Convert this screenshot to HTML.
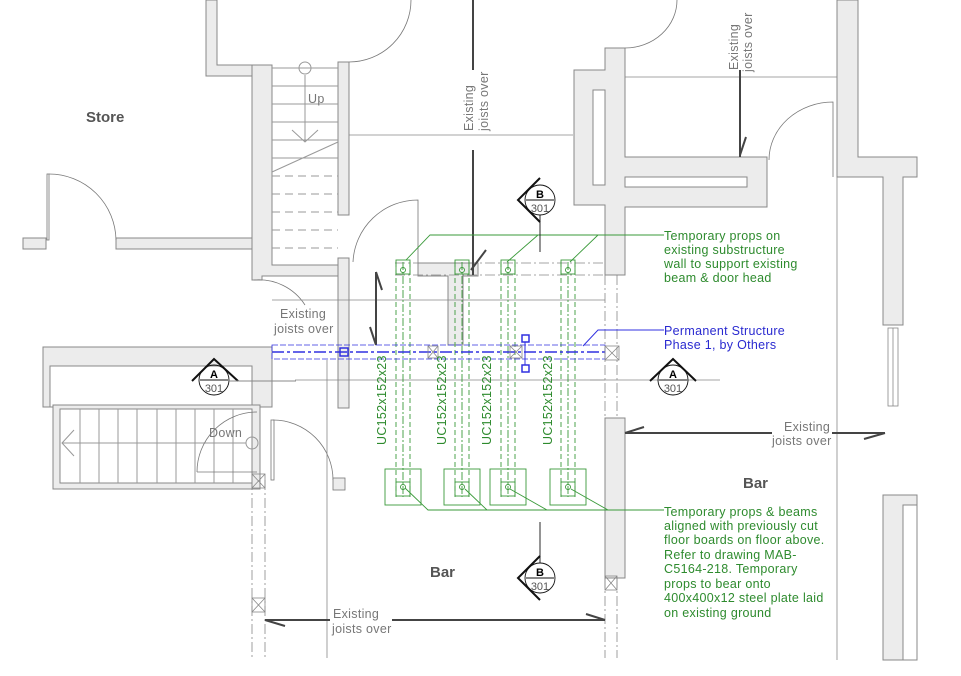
<!DOCTYPE html>
<html><head><meta charset="utf-8"><style>
html,body{margin:0;padding:0;background:#fff;}
svg{display:block;font-family:"Liberation Sans",sans-serif;}
</style></head><body>
<svg width="961" height="676" viewBox="0 0 961 676" xmlns="http://www.w3.org/2000/svg">
<g fill="#ececec" stroke="#888" stroke-width="1">
<path d="M206 0 H217 V65 H272 V76 H206 Z"/>
<path d="M252 65 H272 V265 H338 V276 H262 V280 H252 Z"/>
<rect x="23" y="238" width="23" height="11"/>
<path d="M116 238 H252 V249 H116 Z"/>
<rect x="338" y="62" width="11" height="153"/>
<rect x="338" y="258" width="11" height="150"/>
<path d="M605 48 H625 V157 H767 V207 H625 V275 H605 V205 H574 V70 H605 Z"/>
<rect x="593" y="90" width="12" height="95" fill="#fff"/>
<rect x="625" y="177" width="122" height="10" fill="#fff"/>
<path d="M418 263 H478 V276 H463 V345 H448 V276 H418 Z"/>
<path d="M837 0 H858 V157 H917 V177 H903 V325 H883 V177 H837 Z"/>
<path d="M883 495 H917 V660 H883 Z"/>
<rect x="903" y="505" width="14" height="155" fill="#fff"/>
<rect x="605" y="418" width="20" height="160"/>
<!-- down stairs -->
<rect x="43" y="347" width="229" height="60"/>
<rect x="50" y="366" width="202" height="41" fill="#fff"/>
<rect x="53" y="405" width="207" height="84"/>
<rect x="60" y="409" width="192" height="74" fill="#fff"/>
</g>
<g fill="none" stroke="#888" stroke-width="0.8">
<rect x="888" y="328" width="10" height="78"/>
<line x1="893" y1="328" x2="893" y2="406"/>
</g>
<g stroke="#999" stroke-width="1">
<line x1="272" y1="68" x2="338" y2="68"/><line x1="272" y1="86" x2="338" y2="86"/>
<line x1="272" y1="104" x2="338" y2="104"/><line x1="272" y1="122" x2="338" y2="122"/>
<line x1="272" y1="140" x2="338" y2="140"/><line x1="272" y1="158" x2="338" y2="158"/>
<g stroke-dasharray="8 5"><line x1="272" y1="176" x2="338" y2="176"/><line x1="272" y1="194" x2="338" y2="194"/><line x1="272" y1="212" x2="338" y2="212"/><line x1="272" y1="230" x2="338" y2="230"/><line x1="272" y1="248" x2="338" y2="248"/></g>
<line x1="305" y1="75" x2="305" y2="142"/><circle cx="305" cy="68" r="6" fill="none"/>
<path d="M292 130 L305 142 L318 130" fill="none"/>
<line x1="272" y1="172" x2="338" y2="142"/>
<g><line x1="80" y1="409" x2="80" y2="483"/><line x1="99" y1="409" x2="99" y2="483"/><line x1="118" y1="409" x2="118" y2="483"/><line x1="137" y1="409" x2="137" y2="483"/><line x1="157" y1="409" x2="157" y2="483"/><line x1="176" y1="409" x2="176" y2="483"/><line x1="195" y1="409" x2="195" y2="483"/><line x1="214" y1="409" x2="214" y2="483"/><line x1="233" y1="409" x2="233" y2="483"/></g>
<line x1="62" y1="443" x2="246" y2="443"/><path d="M74 430 L62 443 L74 456" fill="none"/>
<circle cx="252" cy="443" r="6" fill="none"/>
</g>
<g fill="none" stroke="#777" stroke-width="0.8">
<path d="M49 174 A67 67 0 0 1 116 240"/><rect x="47" y="174" width="2" height="66"/>
<path d="M349 62 A62 62 0 0 0 411 0"/>
<path d="M353 262 A65 65 0 0 1 418 200 V263"/>
<path d="M254 280 A55 55 0 0 1 305 305"/>
<path d="M197 472 A60 60 0 0 1 257 412"/><line x1="197" y1="472" x2="257" y2="472"/>
<path d="M273 420 A60 60 0 0 1 333 480"/><rect x="271" y="420" width="3" height="60"/>
<rect x="333" y="478" width="12" height="12" fill="#ececec"/>
<path d="M625 48 A52 48 0 0 0 677 0"/>
<path d="M769 160 A64 58 0 0 1 833 102 V177"/>
</g>
<g stroke="#888" stroke-width="0.8" fill="none">
<line x1="327" y1="360" x2="327" y2="658"/>
<line x1="837" y1="177" x2="837" y2="660"/>
<g stroke-dasharray="10 3 2 3"><line x1="252" y1="480" x2="252" y2="658"/><line x1="265" y1="480" x2="265" y2="658"/><line x1="605" y1="275" x2="605" y2="418"/><line x1="617" y1="275" x2="617" y2="418"/><line x1="605" y1="578" x2="605" y2="658"/><line x1="617" y1="578" x2="617" y2="658"/>
<line x1="395" y1="263" x2="605" y2="263"/><line x1="395" y1="275" x2="605" y2="275"/></g>
<rect x="252" y="474" width="13" height="14"/><path d="M252 474 L265 488 M265 474 L252 488"/>
<rect x="252" y="598" width="13" height="14"/><path d="M252 598 L265 612 M265 598 L252 612"/>
<rect x="605" y="576" width="12" height="14"/><path d="M605 576 L617 590 M617 576 L605 590"/>
<line x1="349" y1="135" x2="573" y2="135"/>
<line x1="625" y1="77" x2="837" y2="77"/>
<line x1="272" y1="300" x2="605" y2="300"/>
<line x1="295" y1="380" x2="605" y2="380"/>
<line x1="590" y1="380" x2="720" y2="380"/>
</g>
<g stroke="#444" stroke-width="2" fill="none">
<line x1="473" y1="0" x2="473" y2="70"/><line x1="473" y1="150" x2="473" y2="275"/><path d="M471 270 L486 250"/>
<line x1="740" y1="70" x2="740" y2="157"/><path d="M740 155 L746 137"/>
<line x1="376" y1="272" x2="376" y2="345"/><path d="M376 272 L382 290 M376 345 L370 327"/>
<line x1="625" y1="433" x2="772" y2="433"/><line x1="832" y1="433" x2="885" y2="433"/><path d="M625 433 L644 427 M885 433 L864 439"/>
<line x1="265" y1="620" x2="330" y2="620"/><line x1="392" y1="620" x2="605" y2="620"/><path d="M265 620 L285 626 M605 620 L586 614"/>
</g>
<g stroke="#3a9a3a" fill="none" stroke-width="0.9">
<g id="p1"><g stroke-dasharray="5 3"><line x1="396" y1="262" x2="396" y2="497"/><line x1="410" y1="262" x2="410" y2="497"/></g><line x1="403" y1="262" x2="403" y2="497" stroke-dasharray="8 2 2 2"/><rect x="396" y="260" width="14" height="14"/><circle cx="403" cy="270" r="2.5"/><rect x="396" y="482" width="14" height="14"/><rect x="385" y="469" width="36" height="36"/><circle cx="403" cy="487" r="2.5"/></g>
<use href="#p1" x="59"/><use href="#p1" x="105"/><use href="#p1" x="165"/>
<path d="M664 235 H430 L406 260 M538 235 L507 262 M598 235 L570 262"/>
<path d="M664 510 H428 L405 488 M487 510 L465 489 M547 510 L510 489 M608 510 L571 489"/>
</g>
<g stroke="#3030e0" fill="none">
<rect x="272" y="345" width="333" height="14" stroke-width="0.8" stroke-dasharray="6 2"/>
<line x1="272" y1="352" x2="605" y2="352" stroke-width="1.5" stroke-dasharray="12 3 3 3"/>
<rect x="340" y="348" width="8" height="8" stroke-width="1.5"/>
<rect x="522" y="335" width="7" height="7" stroke-width="1.5"/><rect x="522" y="365" width="7" height="7" stroke-width="1.5"/><line x1="525" y1="342" x2="525" y2="365"/>
<path d="M664 330 H598 L583 346"/>
</g>
<g stroke="#888" fill="none" stroke-width="0.8">
<rect x="428" y="346" width="10" height="12"/><path d="M428 346 L438 358 M438 346 L428 358"/>
<rect x="510" y="346" width="12" height="12"/><path d="M510 346 L522 358 M522 346 L510 358"/>
<rect x="605" y="346" width="14" height="14"/><path d="M605 346 L619 360 M619 346 L605 360"/>
</g>
<g stroke="#111" fill="none">
<g stroke-width="0.9"><circle cx="540" cy="200" r="15"/><line x1="526" y1="200" x2="554" y2="200"/><line x1="540" y1="215" x2="540" y2="252"/><path d="M540 178 L518 200 L540 222" stroke-width="2"/></g>
<g stroke-width="0.9"><circle cx="540" cy="578" r="15"/><line x1="526" y1="578" x2="554" y2="578"/><line x1="540" y1="522" x2="540" y2="563"/><path d="M540 556 L518 578 L540 600" stroke-width="2"/></g>
<g stroke-width="0.9"><circle cx="214" cy="380" r="15"/><line x1="200" y1="380" x2="228" y2="380"/><path d="M192 381 L214 359 L238 381" stroke-width="2"/><line x1="228" y1="381" x2="296" y2="381" stroke="#888"/></g>
<g stroke-width="0.9"><circle cx="673" cy="380" r="15"/><line x1="659" y1="380" x2="687" y2="380"/><path d="M650 381 L673 359 L696 381" stroke-width="2"/></g>
</g>
<g font-size="11" text-anchor="middle">
<text x="540" y="198" font-weight="bold">B</text><text x="540" y="212" fill="#555">301</text>
<text x="540" y="576" font-weight="bold">B</text><text x="540" y="590" fill="#555">301</text>
<text x="214" y="378" font-weight="bold">A</text><text x="214" y="392" fill="#555">301</text>
<text x="673" y="378" font-weight="bold">A</text><text x="673" y="392" fill="#555">301</text>
</g>
<g fill="#555" font-weight="bold" font-size="15">
<text x="86" y="122">Store</text><text x="430" y="577">Bar</text><text x="743" y="488">Bar</text>
</g>
<g fill="#777" font-size="12.5" letter-spacing="0.3">
<text x="308" y="103">Up</text><text x="209" y="437">Down</text>
<text x="280" y="318">Existing</text><text x="274" y="333">joists over</text>
<text x="784" y="431">Existing</text><text x="772" y="445">joists over</text>
<text x="333" y="618">Existing</text><text x="332" y="633">joists over</text>
<text transform="translate(473 131) rotate(-90)">Existing</text><text transform="translate(488 131) rotate(-90)">joists over</text>
<text transform="translate(738 70) rotate(-90)">Existing</text><text transform="translate(752 72) rotate(-90)">joists over</text>
</g>
<g fill="#2e8b2e" font-size="12.5" letter-spacing="0.3">
<text transform="translate(386 445) rotate(-90)">UC152x152x23</text>
<text transform="translate(446 445) rotate(-90)">UC152x152x23</text>
<text transform="translate(491 445) rotate(-90)">UC152x152x23</text>
<text transform="translate(552 445) rotate(-90)">UC152x152x23</text>
<text x="664" y="240">Temporary props on</text><text x="664" y="254">existing substructure</text><text x="664" y="268">wall to support existing</text><text x="664" y="282">beam &amp; door head</text>
<text x="664" y="516">Temporary props &amp; beams</text><text x="664" y="530">aligned with previously cut</text><text x="664" y="544">floor boards on floor above.</text><text x="664" y="559">Refer to drawing MAB-</text><text x="664" y="573">C5164-218. Temporary</text><text x="664" y="588">props to bear onto</text><text x="664" y="602">400x400x12 steel plate laid</text><text x="664" y="617">on existing ground</text>
</g>
<g fill="#2a2ad0" font-size="12.5" letter-spacing="0.3"><text x="664" y="335">Permanent Structure</text><text x="664" y="349">Phase 1, by Others</text></g>
</svg>
</body></html>
